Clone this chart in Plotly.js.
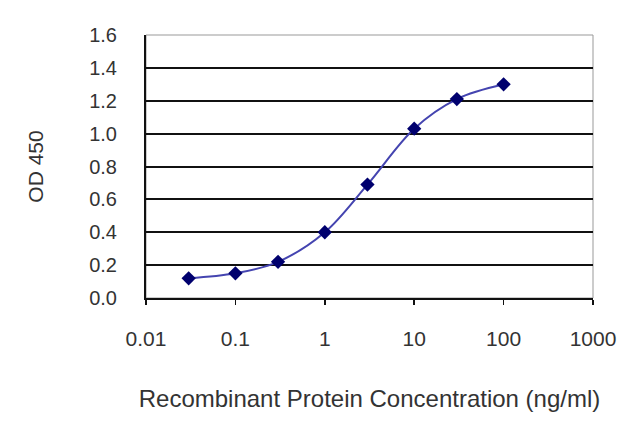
<!DOCTYPE html>
<html>
<head>
<meta charset="utf-8">
<script src="https://cdn.plot.ly/plotly-3.0.1.min.js"></script>
<style>html,body{margin:0;padding:0;background:#fff;}#chart{width:640px;height:427px;}</style>
</head>
<body>
<div id="chart"></div>
<script>
const concentrations = [0.03, 0.1, 0.3, 1, 3, 10, 30, 100];
const od450 = [0.12, 0.15, 0.22, 0.40, 0.69, 1.03, 1.21, 1.30];
const xTickVals = [0.01, 0.1, 1, 10, 100, 1000];
const xTickText = ['0.01', '0.1', '1', '10', '100', '1000'];
const yTickVals = [0, 0.2, 0.4, 0.6, 0.8, 1.0, 1.2, 1.4, 1.6];
const yTickText = ['0.0', '0.2', '0.4', '0.6', '0.8', '1.0', '1.2', '1.4', '1.6'];

const fam = 'Liberation Sans, Arial, sans-serif';
const col = '#333';

Plotly.newPlot('chart', [{
  x: concentrations,
  y: od450,
  type: 'scatter',
  mode: 'lines+markers',
  line: {shape: 'spline', color: '#4444b0', width: 2},
  marker: {symbol: 'diamond', size: 11, color: '#00006e'},
  hoverinfo: 'x+y'
}], {
  width: 640, height: 427,
  margin: {l: 146, r: 47, t: 35, b: 129},
  paper_bgcolor: '#fff', plot_bgcolor: '#fff',
  showlegend: false,
  font: {family: fam, size: 20, color: col},
  xaxis: {
    type: 'log', range: [-2, 3],
    tickvals: xTickVals, ticktext: xTickText,
    showgrid: false, zeroline: false,
    showline: true, linecolor: '#111', linewidth: 2,
    ticks: 'outside', ticklen: 5, tickwidth: 1.5, tickcolor: '#111',
    ticklabelstandoff: 16,
    tickfont: {family: fam, size: 21, color: col},
    title: {text: 'Recombinant Protein Concentration (ng/ml)', font: {family: fam, size: 24, color: col}, standoff: 41}
  },
  yaxis: {
    range: [0, 1.6],
    tickvals: yTickVals, ticktext: yTickText,
    showgrid: true, gridcolor: '#111', gridwidth: 2,
    zeroline: false,
    showline: true, linecolor: '#111', linewidth: 2,
    ticks: '',
    ticklabelstandoff: 23,
    tickfont: {family: fam, size: 20, color: col},
    title: {text: 'OD 450', font: {family: fam, size: 21, color: col}, standoff: 40}
  },
  shapes: [{
    type: 'rect', xref: 'paper', yref: 'paper', x0: 0, x1: 1, y0: 0, y1: 1,
    line: {color: '#999', width: 1}, layer: 'below'
  }]
}, {displayModeBar: false, staticPlot: true});
</script>
</body>
</html>
